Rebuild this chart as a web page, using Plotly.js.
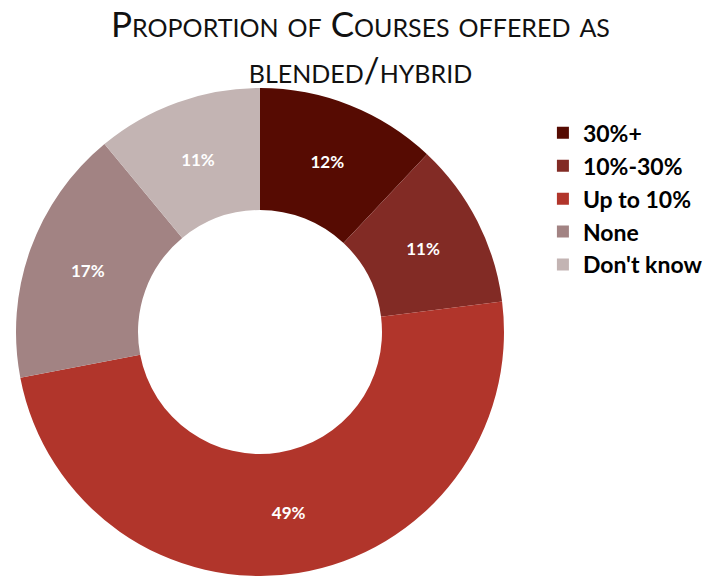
<!DOCTYPE html>
<html>
<head>
<meta charset="utf-8">
<script src="https://cdn.plot.ly/plotly-3.0.1.min.js"></script>
<style>html,body{margin:0;padding:0;background:#fff;}#chart{width:721px;height:576px;}</style>
</head>
<body>
<div id="chart"></div>
<script>
const categories = ["30%+", "10%-30%", "Up to 10%", "None", "Don't know"];
const values = [12, 11, 49, 17, 11];
const colors = ["#560B02", "#822B25", "#B1352B", "#A28383", "#C3B4B3"];

const data = [{
  type: "pie",
  labels: categories,
  values: values,
  hole: 0.5,
  sort: false,
  direction: "clockwise",
  rotation: 0,
  marker: {colors: colors, line: {width: 0}},
  textinfo: "percent",
  texttemplate: "%{percent:.0%}",
  textposition: "inside",
  insidetextorientation: "horizontal",
  textfont: {family: "Lato, sans-serif", size: 17, color: "#ffffff", weight: "bold"},
  domain: {x: [15/721, 505/721], y: [0, 1]},
  hoverinfo: "label+percent"
}];

const layout = {
  width: 721,
  height: 576,
  margin: {l: 0, r: 0, t: 88, b: 0},
  paper_bgcolor: "#ffffff",
  title: {
    text: "Proportion of Courses offered as<br>blended/hybrid",
    font: {family: "Lato, sans-serif", size: 35, color: "#111111", variant: "small-caps"},
    x: 0.5, xanchor: "center",
    y: 0.935, yanchor: "top"
  },
  showlegend: true,
  legend: {
    x: 0.753, xanchor: "left",
    y: 0.952, yanchor: "top",
    font: {family: "Lato, sans-serif", size: 23, color: "#000000", weight: "bold"},
    traceorder: "normal",
    bgcolor: "rgba(0,0,0,0)"
  }
};

Plotly.newPlot("chart", data, layout, {displayModeBar: false});
</script>
</body>
</html>
